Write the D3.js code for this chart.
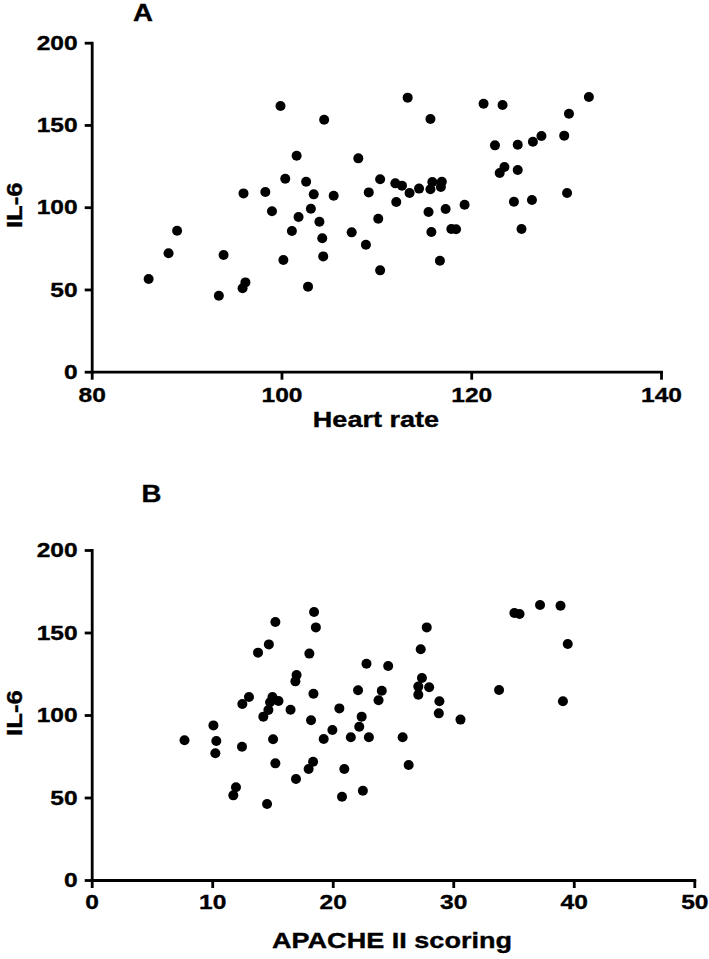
<!DOCTYPE html>
<html>
<head>
<meta charset="utf-8">
<script src="https://cdn.jsdelivr.net/npm/d3@7"></script>
<style>
  html, body { margin: 0; padding: 0; background: #fff; }
  svg { display: block; }
  text { font-family: "Liberation Sans", Arial, sans-serif; font-weight: bold; fill: #000; stroke: #000; stroke-width: 0.35px; }
</style>
</head>
<body>
<svg id="chart" width="709" height="959"></svg>
<script>
// ---------- DATA ----------
const heartRate = [99.9,104.5,101.6,108.1,110.4,100.4,102.6,96.0,98.3,103.4,105.5,109.2,99.0,103.1,101.8,104.0,110.2,101.1,89.0,107.4,104.3,108.9,88.1,93.9,100.2,104.4,110.4,86.0,96.2,95.9,102.8,93.4,113.3,115.7,121.3,123.3,132.4,130.3,122.5,124.9,126.5,127.4,129.8,123.5,123.0,124.9,130.1,124.5,126.4,125.3,112.0,112.7,113.5,114.5,115.7,115.9,116.9,116.8,112.1,115.5,117.3,119.3,115.8,117.9,118.4,116.7];
const il6A = [161.5,153.2,131.3,129.7,117.0,117.3,115.5,108.4,109.2,107.8,107.0,109.0,97.5,99.1,94.0,91.2,93.0,85.5,85.7,84.7,81.1,77.2,72.0,70.9,67.9,70.1,61.6,56.4,54.3,50.7,51.7,46.2,166.6,153.6,162.9,162.1,167.0,156.8,137.6,138.0,139.8,143.3,143.5,124.4,120.8,122.6,108.6,103.3,104.4,86.7,114.5,113.1,108.6,111.3,110.9,115.3,115.5,112.3,103.2,97.1,98.9,101.5,84.9,86.7,86.6,67.5];

const apache = [18.45,18.6,15.24,14.7,13.8,18.06,22.8,24.6,17.0,16.9,22.1,24.07,23.8,18.4,13.05,12.5,15.0,15.5,14.8,14.66,14.24,16.5,20.55,22.4,22.2,18.2,10.1,19.97,19.25,21.5,23.0,7.7,10.34,15.05,10.26,12.47,15.24,18.37,18.0,20.96,16.95,11.97,11.75,14.55,20.77,22.5,35.07,35.5,37.2,38.9,39.5,27.8,27.3,27.4,27.1,28.0,27.1,28.85,28.8,30.6,33.8,39.1,25.8,26.3];
const il6B = [162.4,153.1,156.4,142.8,137.8,137.2,131.1,129.7,124.2,120.4,115.0,114.7,108.9,112.9,110.9,106.7,110.9,108.5,107.7,103.0,99.0,103.2,104.0,99.0,92.9,96.8,93.7,90.9,85.5,86.5,86.5,84.7,84.2,85.3,76.8,80.8,70.7,71.7,67.3,67.3,61.2,56.2,51.3,46.1,50.5,54.1,161.8,161.2,166.7,166.2,143.0,153.1,139.8,122.4,117.2,116.8,112.3,108.3,101.0,97.2,115.2,108.3,86.5,69.7];

const xTicksA = [80, 100, 120, 140];
const xTicksB = [0, 10, 20, 30, 40, 50];
const yTicks = [0, 50, 100, 150, 200];
const xDomainA = [80, 140];
const xDomainB = [0, 50];
const yDomain = [0, 200];
const panelLabels = ["A", "B"];
const xTitles = ["Heart rate", "APACHE II scoring"];
const yTitle = "IL-6";

// ---------- DRAWING ----------
const svg = d3.select("#chart");
const SX = 1.17;       // horizontal stretch of the original lettering
const AXW = 2.8;       // axis stroke width

function panel(o) {
  const x = d3.scaleLinear().domain(o.xDomain).range([o.left, o.right]);
  const y = d3.scaleLinear().domain(yDomain).range([o.bottom, o.top]);
  const g = svg.append("g");

  const ya = g.append("g").attr("transform", `translate(${o.left},0)`)
    .call(d3.axisLeft(y).tickValues(yTicks).tickSize(7).tickSizeOuter(0).tickPadding(7).tickFormat(d3.format("d")));
  const xa = g.append("g").attr("transform", `translate(0,${o.bottom})`)
    .call(d3.axisBottom(x).tickValues(o.xTicks).tickSize(8).tickSizeOuter(0).tickPadding(o.xPad).tickFormat(d3.format("d")));

  [ya, xa].forEach(a => {
    a.select(".domain").attr("stroke", "#000").attr("stroke-width", AXW).attr("stroke-linecap", "square");
    a.selectAll(".tick line").attr("stroke", "#000").attr("stroke-width", AXW);
    a.selectAll("text").attr("font-size", 21).attr("font-family", null).attr("fill", null);
  });
  ya.selectAll(".tick text").each(function() {
    const t = d3.select(this);
    const xx = +t.attr("x");
    t.attr("x", 0).attr("transform", `translate(${xx},0) scale(${SX},1)`);
  });
  xa.selectAll(".tick text").attr("transform", `scale(${SX},1)`);

  // points
  g.append("g").selectAll("circle").data(o.xs.map((v, i) => [v, o.ys[i]]))
    .join("circle")
    .attr("cx", d => x(d[0])).attr("cy", d => y(d[1]))
    .attr("r", 5).attr("fill", "#000");

  // panel letter
  g.append("text").attr("transform", `translate(${o.letterX},${o.letterY}) scale(1.2,1)`)
    .attr("font-size", 23).text(o.letter);

  // x title
  g.append("text").attr("transform", `translate(${o.xTitleX},${o.xTitleY}) scale(1.23,1)`)
    .attr("text-anchor", "middle").attr("font-size", 22).text(o.xTitle);

  // y title
  g.append("text").attr("transform", `translate(${o.yTitleX},${(o.top + o.bottom) / 2 - 2}) rotate(-90) scale(${SX},1)`)
    .attr("text-anchor", "middle").attr("font-size", 22).text(yTitle);
}

panel({
  xDomain: xDomainA, xTicks: xTicksA, xs: heartRate, ys: il6A,
  left: 91.7, right: 661, top: 42.7, bottom: 371.7, xPad: 7,
  letter: panelLabels[0], letterX: 133, letterY: 20.5,
  xTitle: xTitles[0], xTitleX: 376, xTitleY: 427,
  yTitleX: 21.5
});
panel({
  xDomain: xDomainB, xTicks: xTicksB, xs: apache, ys: il6B,
  left: 91.7, right: 694.3, top: 550, bottom: 880, xPad: 6,
  letter: panelLabels[1], letterX: 141.5, letterY: 501.5,
  xTitle: xTitles[1], xTitleX: 392, xTitleY: 948,
  yTitleX: 21.5
});
</script>
</body>
</html>
